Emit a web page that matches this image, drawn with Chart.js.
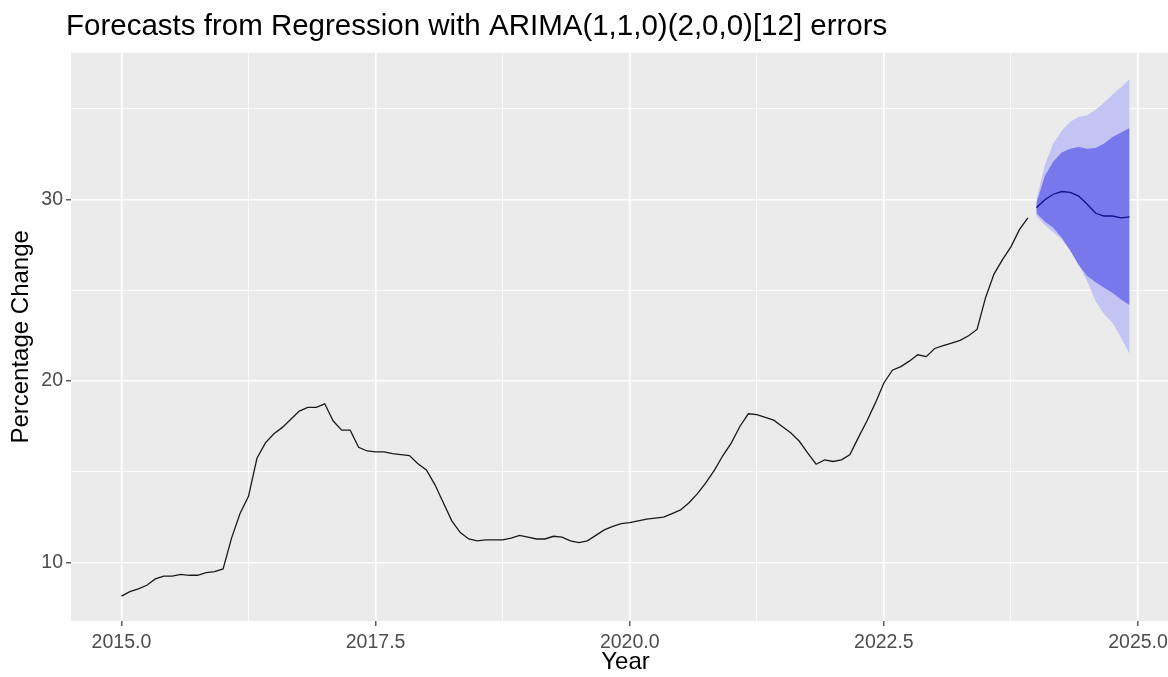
<!DOCTYPE html>
<html>
<head>
<meta charset="utf-8">
<script src="https://cdn.jsdelivr.net/npm/chart.js@4"></script>
<style>
  html, body { margin: 0; padding: 0; background: #fff; }
  #wrap { width: 1168px; height: 677px; overflow: hidden; }
</style>
</head>
<body>
<div id="wrap"><canvas id="chart" width="1192" height="677"></canvas></div>
<script>
// Monthly series, Jan 2015 .. Dec 2023
const startYear = 2015;
const actual = [
    8.15, 8.4, 8.55, 8.75, 9.1, 9.25, 9.25, 9.35, 9.3, 9.3, 9.45, 9.5,
    9.65, 11.35, 12.7, 13.65, 15.75, 16.6, 17.1, 17.45, 17.9, 18.35, 18.55, 18.55,
    18.75, 17.8, 17.3, 17.3, 16.35, 16.15, 16.1, 16.1, 16.0, 15.95, 15.9, 15.45,
    15.1, 14.3, 13.3, 12.3, 11.65, 11.3, 11.2, 11.25, 11.25, 11.25, 11.35, 11.5,
    11.4, 11.3, 11.3, 11.45, 11.4, 11.2, 11.1, 11.2, 11.5, 11.8, 12.0, 12.15,
    12.2, 12.3, 12.4, 12.45, 12.5, 12.7, 12.9, 13.3, 13.8, 14.4, 15.1, 15.9,
    16.6, 17.5, 18.2, 18.15, 18.0, 17.85, 17.5, 17.15, 16.7, 16.05, 15.42, 15.66,
    15.57, 15.66, 15.95, 16.9, 17.8, 18.8, 19.9, 20.6, 20.8, 21.1, 21.45, 21.35,
    21.8, 21.95, 22.1, 22.25, 22.5, 22.85, 24.6, 25.9, 26.7, 27.4, 28.35, 29.0
];

// Forecast, Jan 2024 .. Dec 2024
const forecastStart = 2024;
const fcMean = [29.55, 30.0, 30.3, 30.45, 30.4, 30.2, 29.75, 29.25, 29.1, 29.1, 29.0, 29.05];
const hi80 = [29.8, 31.3, 32.1, 32.6, 32.8, 32.9, 32.8, 32.85, 33.1, 33.45, 33.7, 33.95];
const lo80 = [29.25, 28.8, 28.45, 27.9, 27.2, 26.4, 25.8, 25.45, 25.15, 24.85, 24.5, 24.2];
const hi95 = [30.0, 31.9, 33.1, 33.8, 34.3, 34.55, 34.65, 34.95, 35.35, 35.8, 36.2, 36.65];
const lo95 = [29.1, 28.6, 28.2, 27.8, 27.2, 26.4, 25.5, 24.4, 23.7, 23.2, 22.4, 21.5];

// Axis ticks (major ones get labels, the rest are minor grid lines)
const xTicks = [2015, 2016.25, 2017.5, 2018.75, 2020, 2021.25, 2022.5, 2023.75, 2025];
const xMajor = [2015, 2017.5, 2020, 2022.5, 2025];
const yTicks = [10, 15, 20, 25, 30, 35];
const yMajor = [10, 20, 30];

const monthly = (arr, start) => arr.map((v, i) => ({ x: start + i / 12, y: v }));

const FONT = '"Liberation Sans", Arial, sans-serif';
const isMajorX = v => xMajor.includes(v);
const isMajorY = v => yMajor.includes(v);

const panel = {
    id: 'panel',
    afterLayout(chart) {
        chart.titleBlock.left = 66;
    },
    beforeDraw(chart) {
        const { ctx, chartArea: a } = chart;
        ctx.save();
        ctx.fillStyle = '#ebebeb';
        ctx.fillRect(a.left, a.top, a.right - a.left, a.bottom - a.top);
        ctx.restore();
    }
};

const lineDs = (label, data, color, order) => ({
    label, data, borderColor: color, borderWidth: 1.3,
    pointRadius: 0, tension: 0, fill: false, order
});
const bandDs = (label, data, fill, color, order) => ({
    label, data, borderWidth: 0, borderColor: 'rgba(0,0,0,0)',
    backgroundColor: color, pointRadius: 0, tension: 0, fill, order
});

new Chart(document.getElementById('chart'), {
    type: 'line',
    data: {
        datasets: [
            lineDs('Actual', monthly(actual, startYear), '#1a1a1a', 0),
            lineDs('Forecast', monthly(fcMean, forecastStart), '#10108c', 0),
            bandDs('80% high', monthly(hi80, forecastStart), 3, '#7878ec', 1),
            bandDs('80% low', monthly(lo80, forecastStart), false, 'rgba(0,0,0,0)', 1),
            bandDs('95% high', monthly(hi95, forecastStart), 5, '#c3c3f4', 2),
            bandDs('95% low', monthly(lo95, forecastStart), false, 'rgba(0,0,0,0)', 2)
        ]
    },
    plugins: [panel],
    options: {
        responsive: false,
        animation: false,
        devicePixelRatio: 1,
        layout: { padding: { left: 0, right: 12, top: 0, bottom: 0 } },
        plugins: {
            legend: { display: false },
            tooltip: { enabled: false },
            title: {
                display: true,
                text: 'Forecasts from Regression with ARIMA(1,1,0)(2,0,0)[12] errors',
                align: 'start',
                color: '#000',
                font: { family: FONT, size: 29.5, weight: 'normal' },
                padding: { top: 9, bottom: 8.3 }
            }
        },
        scales: {
            x: {
                type: 'linear',
                min: 2014.504,
                max: 2025.413,
                afterBuildTicks: s => { s.ticks = xTicks.map(v => ({ value: v })); },
                afterFit: s => { s.height = 56; },
                border: { display: false },
                grid: {
                    color: '#ffffff',
                    lineWidth: c => isMajorX(c.tick.value) ? 1.6 : 0.8,
                    tickColor: c => isMajorX(c.tick.value) ? '#333333' : 'rgba(0,0,0,0)',
                    tickWidth: 1.2,
                    tickLength: 5
                },
                ticks: {
                    autoSkip: false,
                    maxRotation: 0,
                    padding: 5,
                    color: '#4d4d4d',
                    font: { family: FONT, size: 19.5 },
                    callback: v => isMajorX(v) ? v.toFixed(1) : ''
                },
                title: {
                    display: true,
                    text: 'Year',
                    color: '#000',
                    font: { family: FONT, size: 24 },
                    padding: { top: 0, bottom: 0 }
                }
            },
            y: {
                type: 'linear',
                min: 6.78,
                max: 38.1,
                afterBuildTicks: s => { s.ticks = yTicks.map(v => ({ value: v })); },
                afterFit: s => { s.width = 71; },
                border: { display: false },
                grid: {
                    color: '#ffffff',
                    lineWidth: c => isMajorY(c.tick.value) ? 1.6 : 0.8,
                    tickColor: c => isMajorY(c.tick.value) ? '#333333' : 'rgba(0,0,0,0)',
                    tickWidth: 1.2,
                    tickLength: 5
                },
                ticks: {
                    autoSkip: false,
                    padding: 3,
                    color: '#4d4d4d',
                    font: { family: FONT, size: 19.5 },
                    callback: v => isMajorY(v) ? String(v) : ''
                },
                title: {
                    display: true,
                    text: 'Percentage Change',
                    color: '#000',
                    font: { family: FONT, size: 24 },
                    padding: { top: 7, bottom: 0 }
                }
            }
        }
    }
});
</script>
</body>
</html>
